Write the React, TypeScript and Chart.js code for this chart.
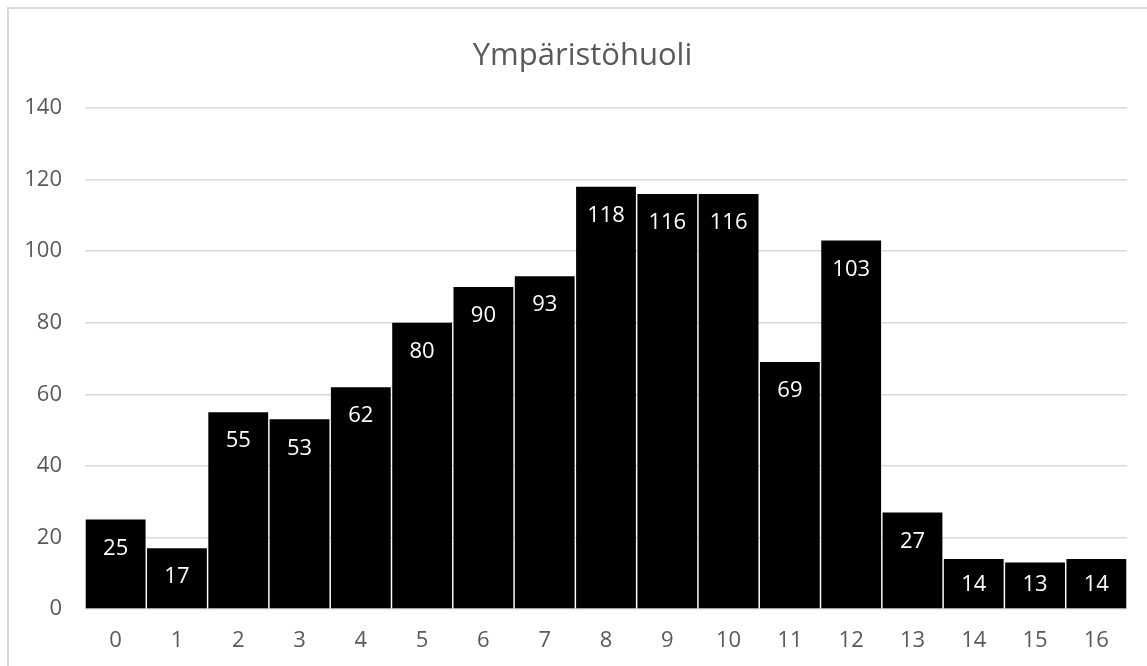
import React, { useEffect, useRef } from "react";
import { Chart, registerables } from "chart.js";

Chart.register(...registerables);

const chartTitle = "Ympäristöhuoli";
const categories = ["0", "1", "2", "3", "4", "5", "6", "7", "8", "9", "10", "11", "12", "13", "14", "15", "16"];
const counts = [25, 17, 55, 53, 62, 80, 90, 93, 118, 116, 116, 69, 103, 27, 14, 13, 14];
const yMin = 0;
const yMax = 140;
const yStep = 20;

const FONT = '"Open Sans", "Liberation Sans", sans-serif';
const TEXT_COLOR = "#595959";
const GRID_COLOR = "#d9d9d9";

const titlePlugin = {
  id: "customTitle",
  afterDraw(chart: any) {
    const ctx = chart.ctx;
    ctx.save();
    ctx.font = `31px ${FONT}`;
    ctx.fillStyle = TEXT_COLOR;
    ctx.textAlign = "center";
    ctx.textBaseline = "alphabetic";
    ctx.fillText(chartTitle, chart.width / 2, 56);
    ctx.restore();
  },
};

const valueLabelPlugin = {
  id: "valueLabels",
  afterDatasetsDraw(chart: any) {
    const ctx = chart.ctx;
    const meta = chart.getDatasetMeta(0);
    const data = chart.data.datasets[0].data;
    ctx.save();
    ctx.font = `22px ${FONT}`;
    ctx.fillStyle = "#ffffff";
    ctx.textAlign = "center";
    ctx.textBaseline = "middle";
    meta.data.forEach((bar: any, i: number) => {
      let y = bar.y + 29;
      const maxY = bar.base - 24;
      if (y > maxY) y = maxY;
      ctx.fillText(String(data[i]), bar.x, y);
    });
    ctx.restore();
  },
};

export default function App() {
  const canvasRef = useRef<HTMLCanvasElement | null>(null);

  useEffect(() => {
    if (!canvasRef.current) return;
    const chart = new Chart(canvasRef.current, {
      type: "bar",
      data: {
        labels: categories,
        datasets: [
          {
            data: counts,
            backgroundColor: "#000000",
            borderWidth: 0,
            barPercentage: 0.976,
            categoryPercentage: 1,
          },
        ],
      },
      options: {
        animation: false,
        responsive: false,
        maintainAspectRatio: false,
        layout: { padding: { top: 99, right: 29, left: 0, bottom: 0 } },
        plugins: {
          legend: { display: false },
          title: { display: false },
          tooltip: { enabled: false },
        },
        scales: {
          x: {
            grid: { display: false, drawTicks: false },
            border: { display: false },
            ticks: {
              color: TEXT_COLOR,
              font: { family: FONT, size: 22 },
              padding: 19,
              maxRotation: 0,
            },
            afterFit: (s: any) => {
              s.height = 66;
            },
          },
          y: {
            min: yMin,
            max: yMax,
            grid: { color: GRID_COLOR, lineWidth: 1.5, drawTicks: false },
            border: { display: false },
            ticks: {
              stepSize: yStep,
              color: TEXT_COLOR,
              font: { family: FONT, size: 22 },
              padding: 23,
            },
            afterFit: (s: any) => {
              s.width = 76;
            },
          },
        },
      },
      plugins: [titlePlugin, valueLabelPlugin],
    });
    return () => chart.destroy();
  }, []);

  return (
    <div style={{ position: "fixed", left: 0, top: 0, right: 0, bottom: 0, overflow: "hidden", background: "#ffffff" }}>
      <div
        style={{
          position: "absolute",
          left: 7,
          top: 7,
          width: 1149,
          height: 668,
          borderLeft: `2px solid ${GRID_COLOR}`,
          borderTop: `2px solid ${GRID_COLOR}`,
          background: "#ffffff",
        }}
      >
        <canvas ref={canvasRef} width={1147} height={666} style={{ display: "block", width: 1147, height: 666 }} />
      </div>
    </div>
  );
}
